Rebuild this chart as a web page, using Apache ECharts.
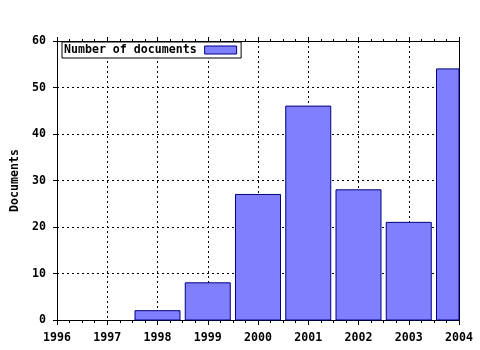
<!DOCTYPE html>
<html><head><meta charset="utf-8">
<script src="https://cdn.jsdelivr.net/npm/echarts@6/dist/echarts.min.js"></script>
<style>html,body{margin:0;padding:0;background:#fff}#c{width:480px;height:350px}</style>
</head><body><div id="c"></div>
<script>
var years = [1996, 1997, 1998, 1999, 2000, 2001, 2002, 2003, 2004];
var documents = [0, 0, 2, 8, 27, 46, 28, 21, 54];
var seriesName = 'Number of documents';
var yTitle = 'Documents';

var font = {fontFamily: 'DejaVu Sans Mono', fontWeight: 'bold', fontSize: 11.6, color: '#000'};
var chart = echarts.init(document.getElementById('c'), null, {renderer: 'canvas'});
var data = years.map(function (y, i) { return [y, documents[i]]; }).filter(function (d) { return d[1] > 0; });
var barW = 45;
chart.setOption({
  animation: false,
  backgroundColor: '#fff',
  grid: {left: 57, right: 21, top: 41, bottom: 30, outerBoundsMode: 'none', containLabel: false},
  legend: {
    left: 62, top: 42, padding: [2, 4, 2, 2], itemGap: 0,
    borderColor: '#000', borderWidth: 1, backgroundColor: '#fff',
    align: 'right', itemWidth: 32, itemHeight: 8,
    textStyle: Object.assign({}, font, {padding: [0, 3, 0, 0]}),
    data: [{name: seriesName, icon: 'rect', itemStyle: {color: '#8080ff', borderColor: '#000080', borderWidth: 1}}]
  },
  xAxis: [{
    type: 'value', min: 1996, max: 2004, interval: 1,
    axisLine: {show: true, onZero: false, lineStyle: {color: '#000', width: 1}},
    axisTick: {show: true, length: 5, lineStyle: {color: '#000'}},
    minorTick: {show: true, splitNumber: 4, length: 3, lineStyle: {color: '#000'}},
    axisLabel: Object.assign({}, font, {margin: 12, formatter: function (v) { return String(v); }}),
    splitLine: {show: true, lineStyle: {color: '#000', type: [2, 3], width: 1}}
  }, {
    type: 'value', position: 'top', min: 1996, max: 2004, interval: 1,
    axisLine: {show: true, onZero: false, lineStyle: {color: '#000', width: 1}},
    axisTick: {show: true, length: 4, lineStyle: {color: '#000'}},
    minorTick: {show: true, splitNumber: 4, length: 2, lineStyle: {color: '#000'}},
    axisLabel: {show: false}, splitLine: {show: false}
  }],
  yAxis: [{
    type: 'value', min: 0, max: 60, interval: 10,
    name: yTitle, nameLocation: 'middle', nameGap: 36, nameRotate: 90,
    nameTextStyle: font,
    axisLine: {show: true, onZero: false, lineStyle: {color: '#000', width: 1}},
    axisTick: {show: true, length: 4, lineStyle: {color: '#000'}},
    axisLabel: Object.assign({}, font, {margin: 11}),
    splitLine: {show: true, lineStyle: {color: '#000', type: [2, 3], width: 1}}
  }, {
    type: 'value', position: 'right', min: 0, max: 60, interval: 10,
    axisLine: {show: true, onZero: false, lineStyle: {color: '#000', width: 1}},
    axisTick: {show: false}, axisLabel: {show: false}, splitLine: {show: false}
  }],
  series: [{
    name: seriesName, type: 'custom', xAxisIndex: 0, yAxisIndex: 0,
    data: data,
    itemStyle: {color: '#8080ff'},
    renderItem: function (params, api) {
      var top = api.coord([api.value(0), api.value(1)]);
      var base = api.coord([api.value(0), 0]);
      var rect = echarts.graphic.clipRectByRect(
        {x: top[0] - barW / 2, y: top[1], width: barW, height: base[1] - top[1]},
        {x: params.coordSys.x, y: params.coordSys.y, width: params.coordSys.width, height: params.coordSys.height}
      );
      if (!rect) return null;
      return {
        type: 'rect', shape: rect,
        style: {fill: '#8080ff', stroke: '#000080', lineWidth: 1}
      };
    }
  }]
});
</script></body></html>
